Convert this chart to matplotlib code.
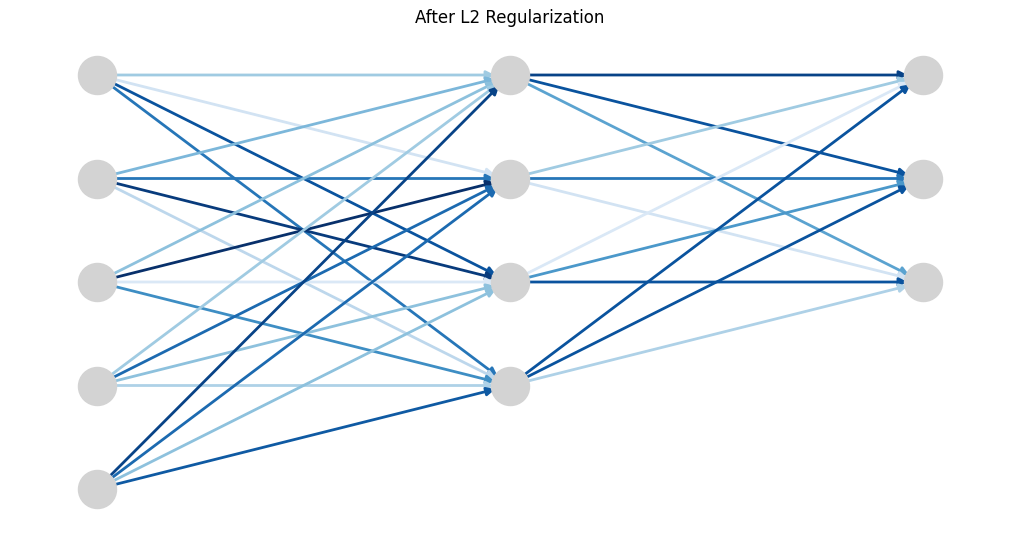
import matplotlib.pyplot as plt
from matplotlib.patches import FancyArrowPatch

# layer sizes and edge intensities (0..1 on the Blues colormap)
layer_sizes = [5, 4, 3]
w_in_hidden = [
    [0.30, 0.10, 0.85, 0.70],
    [0.40, 0.70, 0.95, 0.20],
    [0.35, 1.00, 0.05, 0.60],
    [0.30, 0.75, 0.35, 0.25],
    [0.92, 0.75, 0.35, 0.82],
]
w_hidden_out = [
    [0.92, 0.85, 0.50],
    [0.30, 0.70, 0.10],
    [0.05, 0.55, 0.85],
    [0.85, 0.85, 0.25],
]

fig = plt.figure(figsize=(10.19, 5.42), dpi=100)
ax = fig.add_axes([0, 0, 1, 1])
ax.set_xlim(-97 / 413, (1019 - 97) / 413)
ax.set_ylim(-(542 - 75) / 103.5, 75 / 103.5)
ax.axis('off')

pos = {}
for layer, n in enumerate(layer_sizes):
    for k in range(n):
        pos[(layer, k)] = (layer, -k)

cmap = plt.cm.Blues

def draw_edges(src_layer, weights):
    for i, row in enumerate(weights):
        for j, w in enumerate(row):
            a = FancyArrowPatch(pos[(src_layer, i)], pos[(src_layer + 1, j)],
                                arrowstyle='-|>', mutation_scale=12, lw=2,
                                color=cmap(0.1 + 0.9 * w), shrinkA=0, shrinkB=11,
                                zorder=1)
            ax.add_patch(a)

draw_edges(0, w_in_hidden)
draw_edges(1, w_hidden_out)

xs = [p[0] for p in pos.values()]
ys = [p[1] for p in pos.values()]
ax.scatter(xs, ys, s=750, color='lightgray', zorder=3)

fig.text(0.5, 1 - 18 / 542, 'After L2 Regularization', ha='center', va='center', fontsize=12)
fig.savefig('out.png')
